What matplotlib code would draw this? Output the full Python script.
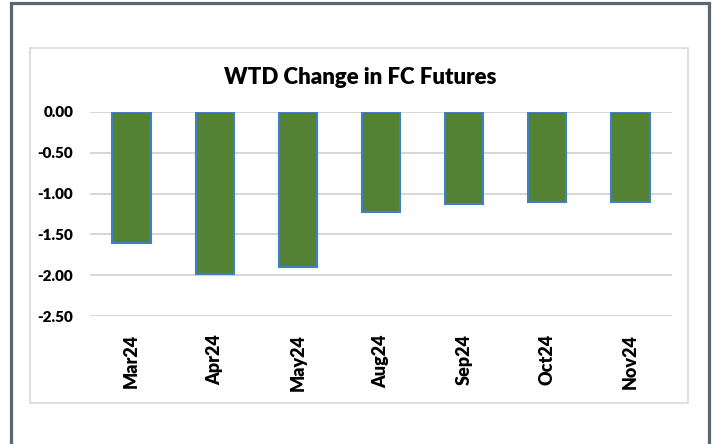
import matplotlib
matplotlib.use("Agg")
import matplotlib.pyplot as plt
from matplotlib.patches import Rectangle

plt.rcParams['font.family'] = ['Lato', 'DejaVu Sans']

# data
contracts = ['Mar24', 'Apr24', 'May24', 'Aug24', 'Sep24', 'Oct24', 'Nov24']
wtd_change = [-1.60, -1.98, -1.90, -1.22, -1.13, -1.10, -1.10]
y_ticks = [0.0, -0.5, -1.0, -1.5, -2.0, -2.5]

W, H = 714, 444
fig = plt.figure(figsize=(W / 100, H / 100), dpi=100)

def px_box(x0, y0, x1, y1):
    # pixel box (top-left origin) -> figure fraction rect
    return [x0 / W, 1 - y1 / H, (x1 - x0) / W, (y1 - y0) / H]

ax = fig.add_axes(px_box(90, 112, 672, 316))

# outer dark frame (bottom runs off the image)
fig.add_artist(Rectangle((11.5 / W, -0.05), (709 - 11.5) / W, 1.05 - 3.5 / H,
                         transform=fig.transFigure, fill=False,
                         edgecolor='#5b6770', linewidth=2.3))
# inner chart border
fig.add_artist(Rectangle((30 / W, 1 - 403 / H), (688 - 30) / W, (403 - 48) / H,
                         transform=fig.transFigure, fill=False,
                         edgecolor='#d9d9d9', linewidth=1.2))

ax.bar(range(len(contracts)), wtd_change, width=0.46, color='#548235',
       edgecolor='#3f7fc4', linewidth=1.5, zorder=3)

ax.set_xlim(-0.5, len(contracts) - 0.5)
ax.set_ylim(-2.5, 0.0)
ax.set_yticks(y_ticks)
ax.set_yticklabels(['%.2f' % v for v in y_ticks], fontsize=11, fontweight='heavy')
ax.set_xticks(range(len(contracts)))
ax.set_xticklabels(contracts, rotation=90, fontsize=13, fontweight='heavy')
ax.tick_params(length=0)
ax.tick_params(axis='y', pad=12)
ax.tick_params(axis='x', pad=13)
ax.yaxis.grid(True, color='#d0d0d0', linewidth=1.2, zorder=0)
ax.set_axisbelow(True)
for s in ax.spines.values():
    s.set_visible(False)

fig.text(360 / W, 1 - 77 / H, 'WTD Change in FC Futures', ha='center', va='center',
         fontsize=16, fontweight='heavy')

fig.savefig('out.png', dpi=100)
